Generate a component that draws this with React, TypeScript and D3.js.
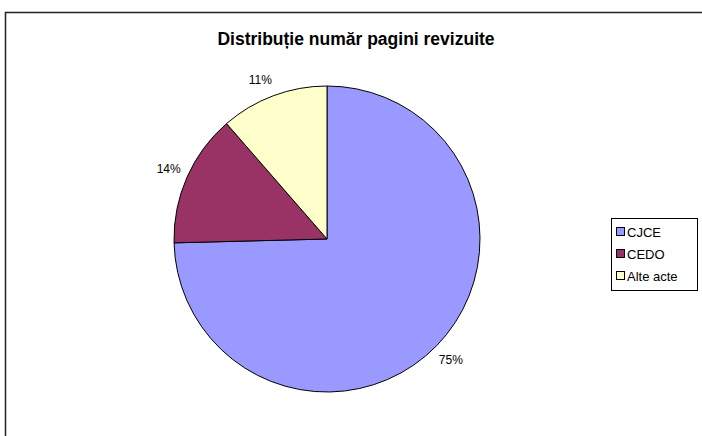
import React from "react";
import * as d3 from "d3";

const categories = ["CJCE", "CEDO", "Alte acte"];
const values = [74.6, 14.0, 11.4];
const colors = ["#9999FF", "#993366", "#FFFFCC"];
const title = "Distribuție număr pagini revizuite";

const W = 702;
const H = 436;
const cx = 327;
const cy = 239;
const R = 153;

export default function App() {
  const total = d3.sum(values);
  const pie = d3.pie<number>().sort(null).value((d) => d)(values);
  const arc = d3.arc<d3.PieArcDatum<number>>().innerRadius(0).outerRadius(R);
  const labelArc = d3.arc<d3.PieArcDatum<number>>().innerRadius(R + 20).outerRadius(R + 20);
  const font = "Arial, 'Liberation Sans', sans-serif";
  return (
    <svg width={W} height={H} style={{ position: "absolute", left: 0, top: 0, background: "#fff" }}>
      <rect x={5.5} y={12.5} width={720} height={450} fill="#fff" stroke="#222" strokeWidth={1.5} />
      <text x={356} y={45} textAnchor="middle" fontFamily={font} fontWeight="bold" fontSize={17.5}>
        {title}
      </text>
      <g transform={`translate(${cx},${cy})`}>
        {pie.map((p, i) => (
          <path key={i} d={arc(p) || ""} fill={colors[i]} stroke="#000" strokeWidth={1} />
        ))}
        {pie.map((p, i) => {
          const [lx, ly] = labelArc.centroid(p);
          return (
            <text key={"l" + i} x={lx - (i === 2 ? 6 : 0)} y={ly + (i === 2 ? 3 : 0)} textAnchor="middle" dominantBaseline="central" fontFamily={font} fontSize={12} fill="#000">
              {Math.round((p.value / total) * 100)}%
            </text>
          );
        })}
      </g>
      <g transform="translate(611,218)">
        <rect x={0.5} y={0.5} width={86} height={72} fill="#fff" stroke="#000" strokeWidth={1} />
        {categories.map((c, i) => (
          <g key={c} transform={`translate(5,${14 + i * 22})`}>
            <rect x={0.5} y={-4.5} width={8} height={8} fill={colors[i]} stroke="#000" strokeWidth={1} />
            <text x={11} y={0} dominantBaseline="central" fontFamily={font} fontSize={13}>
              {c}
            </text>
          </g>
        ))}
      </g>
    </svg>
  );
}
